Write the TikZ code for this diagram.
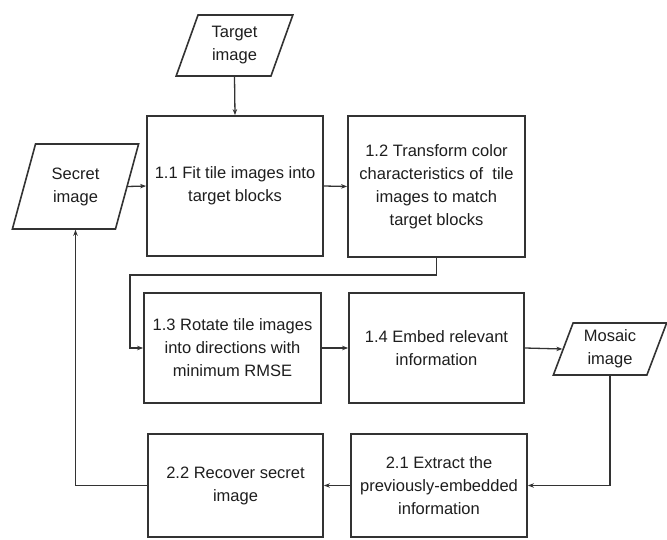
\documentclass[tikz,border=0pt]{standalone}
\usepackage{fontspec}
\setmainfont{Liberation Sans}
\usetikzlibrary{shapes.geometric,arrows.meta}
\definecolor{ln}{HTML}{333333}
\definecolor{tx}{HTML}{1E1E1E}
\begin{document}
\begin{tikzpicture}[x=1pt,y=-1pt,
  every node/.style={font=\fontsize{16.5}{23}\selectfont, text=tx, align=center, inner sep=0pt},
  procbox/.style={draw=ln, line width=1.8pt, rectangle},
  iobox/.style={draw=ln, line width=1.6pt, trapezium, trapezium left angle=70, trapezium right angle=110, trapezium stretches=true},
  conn/.style={draw=ln, line width=1.3pt, -{Stealth[length=6pt,width=4.5pt]}}
]
\useasboundingbox (0,0) rectangle (667,540);
\fill[white] (0,0) rectangle (667,540);
% input/output parallelograms
\node[iobox, minimum width=117pt, minimum height=61pt] (target) at (234.5,45.5) {Target\\image};
\node[iobox, minimum width=127pt, minimum height=85pt] (secret) at (75.5,186.5) {Secret\\image};
\node[iobox, minimum width=114pt, minimum height=52pt] (mosaic) at (610,349) {Mosaic\\image};
% process boxes
\node[procbox, minimum width=176pt, minimum height=140pt] (b11) at (235,186) {1.1 Fit tile images into\\target blocks};
\node[procbox, minimum width=177pt, minimum height=141pt] (b12) at (436.5,186.5) {1.2 Transform color\\characteristics of \ tile\\images to match\\target blocks};
\node[procbox, minimum width=177pt, minimum height=110pt] (b13) at (232.5,348) {1.3 Rotate tile images\\into directions with\\minimum RMSE};
\node[procbox, minimum width=175pt, minimum height=110pt] (b14) at (436.5,348) {1.4 Embed relevant\\information};
\node[procbox, minimum width=175pt, minimum height=103pt] (b22) at (235.5,485.5) {2.2 Recover secret\\image};
\node[procbox, minimum width=176pt, minimum height=103pt] (b21) at (439,485.5) {2.1 Extract the\\previously-embedded\\information};
% connectors
\coordinate (k1) at (130,275);
\draw[conn] (target.south) -- (b11.north);
\draw[conn] (secret.east) -- (b11.west);
\draw[conn] (b11.east) -- (b12.west);
\draw[conn] (b12.south) |- (k1) |- (b13.west);
\draw[conn] (b13.east) -- (b14.west);
\draw[conn] (b14.east) -- (mosaic.west);
\draw[conn] (mosaic.south) |- (b21.east);
\draw[conn] (b21.west) -- (b22.east);
\draw[conn] (b22.west) -| (secret.south);
\end{tikzpicture}
\end{document}
